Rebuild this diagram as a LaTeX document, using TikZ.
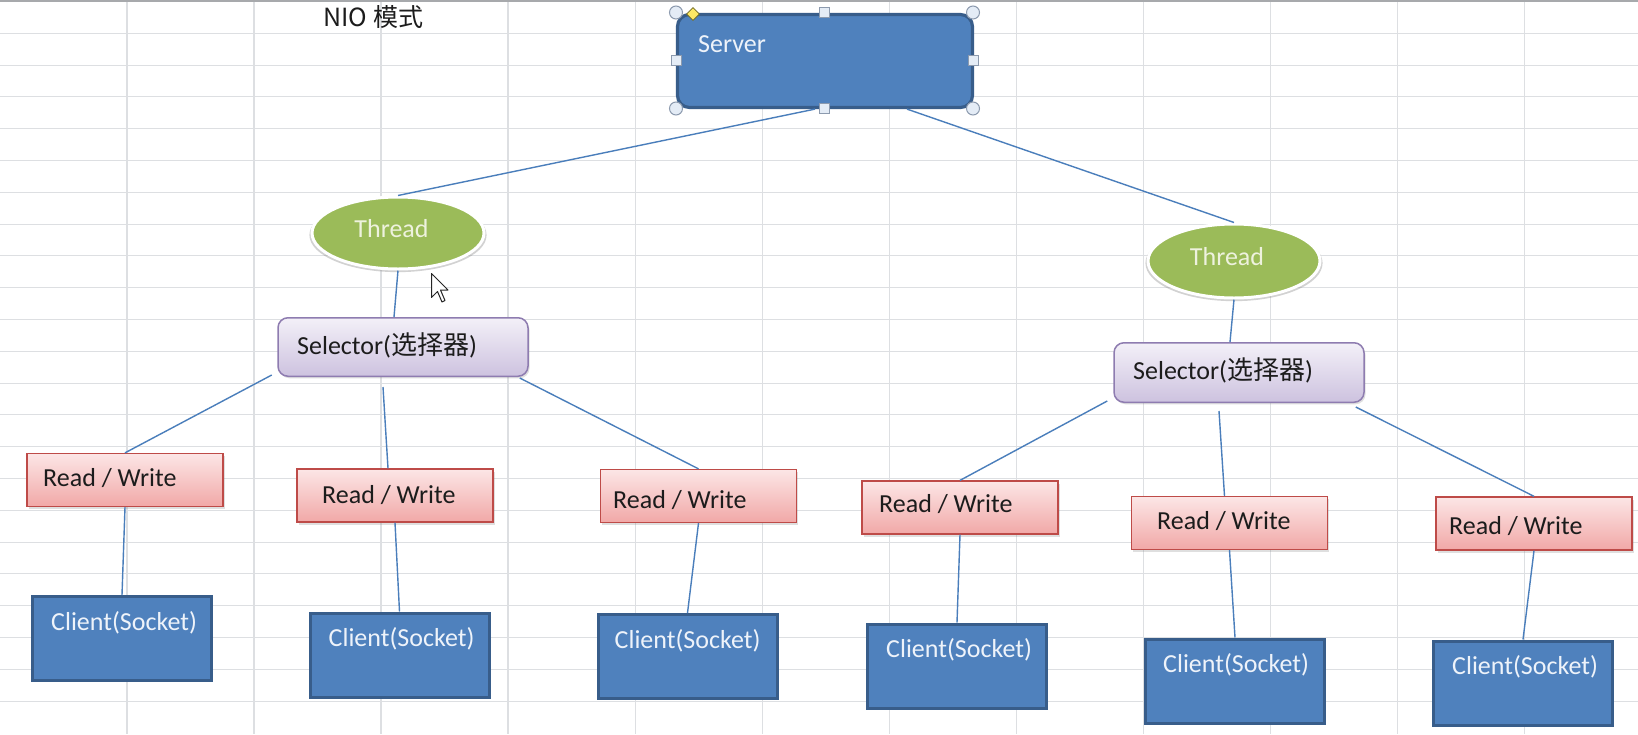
\documentclass[tikz,border=0pt]{standalone}
\usepackage{fontspec}
\setmainfont{Carlito}
\newfontfamily\cjk{Noto Sans CJK SC}
\usetikzlibrary{shapes.geometric,shadows,calc}

\definecolor{gridc}{HTML}{DDDFE2}
\definecolor{topc}{HTML}{A7A9AC}
\definecolor{blueF}{HTML}{4F81BD}
\definecolor{blueD}{HTML}{385D8A}
\definecolor{greenF}{HTML}{9BBB59}
\definecolor{lineC}{HTML}{4A7EBB}
\definecolor{pinkT}{HTML}{FCE6E6}
\definecolor{pinkB}{HTML}{F1A8A7}
\definecolor{redD}{HTML}{BE4B48}
\definecolor{purT}{HTML}{F3F0F8}
\definecolor{purB}{HTML}{CDC2DF}
\definecolor{purD}{HTML}{8E7CB0}
\definecolor{txtD}{HTML}{1C1C1C}
\definecolor{txtL}{HTML}{EEF3FA}
\definecolor{txtG}{HTML}{EEF2DE}
\definecolor{handleD}{HTML}{8C9AAE}
\definecolor{handleF}{HTML}{E4ECF6}

\tikzset{
  lbl/.style={font=\fontsize{26pt}{30pt}\selectfont, inner sep=0pt},
  serverbox/.style={draw=blueD, line width=3.2pt, fill=blueF, rounded corners=12pt,
    minimum width=295pt, minimum height=93pt, inner sep=0pt},
  clientbox/.style={draw=blueD, line width=3pt, fill=blueF,
    minimum width=179pt, minimum height=84pt, inner sep=0pt},
  threadnode/.style={ellipse, draw=white, line width=3pt, fill=greenF,
    minimum width=172pt, minimum height=72pt, inner sep=0pt,
    drop shadow={shadow xshift=0pt, shadow yshift=-2pt, shadow scale=1.03, opacity=0.35}},
  selbox/.style={draw=purD, line width=1.5pt, top color=purT, bottom color=purB,
    rounded corners=10pt, inner sep=0pt,
    drop shadow={shadow xshift=1.5pt, shadow yshift=-2pt, opacity=0.25}},
  rwbox/.style={draw=redD, line width=1.3pt, top color=pinkT, bottom color=pinkB,
    minimum width=196pt, minimum height=53pt, inner sep=0pt,
    drop shadow={shadow xshift=1.5pt, shadow yshift=-2.5pt, opacity=0.25}},
  darktxt/.style={lbl, text=txtD},
  lighttxt/.style={lbl, text=txtL},
  link/.style={draw=lineC, line width=1.4pt},
  gridv/.style={draw=gridc, line width=1.3pt},
  gridh/.style={draw=gridc, line width=1.1pt},
  handlec/.style={circle, draw=handleD, fill=handleF, line width=1pt, minimum size=13pt, inner sep=0pt},
  handles/.style={rectangle, draw=handleD, fill=handleF, line width=1pt, minimum size=10pt, inner sep=0pt},
  handley/.style={diamond, draw=olive!70!black, fill=yellow!80!orange!60, line width=0.8pt, minimum size=13pt, inner sep=0pt},
  cursorshape/.style={draw=black!85, fill=white, line width=1pt, line join=round},
}

\begin{document}
\begin{tikzpicture}[x=1pt, y=-1pt]
\useasboundingbox (0,0) rectangle (1638,734);
\fill[white] (0,0) rectangle (1638,734);

% spreadsheet grid
\foreach \k in {0,...,21} {
  \draw[gridh] (0,{33.3+31.8*\k}) -- (1638,{33.3+31.8*\k});
}
\foreach \k in {1,...,12} {
  \draw[gridv] ({127.03*\k},0) -- ({127.03*\k},734);
}
\draw[draw=topc, line width=2pt] (0,1) -- (1638,1);

% title
\node[anchor=base west, inner sep=0pt, font=\cjk\fontsize{25pt}{30pt}\selectfont, text=txtD] (title) at (323,26) {NIO\hspace{6pt}模式};

% server
\node[serverbox] (srv) at (825,61) {};
\node[lighttxt, anchor=base west] (srvt) at (698,52) {Server};

% threads
\node[threadnode] (th1) at (398,233) {};
\node[lbl, text=txtG] (th1t) at (391.5,229) {Thread};
\node[threadnode, minimum height=74pt] (th2) at (1234,261) {};
\node[lbl, text=txtG] (th2t) at (1227,256.5) {Thread};

% selectors
\node[selbox, minimum width=250pt, minimum height=58.5pt] (sel1) at (403,347) {};
\node[darktxt, anchor=west] (sel1t) at (297,345) {Selector({\cjk 选择器})};
\node[selbox, minimum width=250pt, minimum height=59.5pt] (sel2) at (1239,372.5) {};
\node[darktxt, anchor=west] (sel2t) at (1133,370) {Selector({\cjk 选择器})};

% read / write boxes
\node[rwbox] (rw1) at (125,480) {};
\node[rwbox] (rw2) at (395,495.5) {};
\node[rwbox] (rw3) at (698.5,496) {};
\node[rwbox] (rw4) at (960,507.5) {};
\node[rwbox] (rw5) at (1229.5,523) {};
\node[rwbox] (rw6) at (1534,523.5) {};
\node[darktxt, anchor=west] (rw1t) at (43,478) {Read / Write};
\node[darktxt, anchor=west] (rw2t) at (322,495) {Read / Write};
\node[darktxt, anchor=west] (rw3t) at (613,500) {Read / Write};
\node[darktxt, anchor=west] (rw4t) at (879,504) {Read / Write};
\node[darktxt, anchor=west] (rw5t) at (1157,521) {Read / Write};
\node[darktxt, anchor=west] (rw6t) at (1449,526) {Read / Write};

% clients
\node[clientbox] (cl1) at (122,638.5) {};
\node[clientbox] (cl2) at (399.5,655) {};
\node[clientbox] (cl3) at (687.5,656.5) {};
\node[clientbox] (cl4) at (957,666) {};
\node[clientbox] (cl5) at (1235,681) {};
\node[clientbox] (cl6) at (1523,683) {};
\foreach \i/\dx in {1/20,2/20,3/18,4/20,5/19,6/20} {
  \node[lighttxt, anchor=base west] (cl\i t) at ([xshift=\dx pt, yshift=-35pt]cl\i.north west) {Client(Socket)};
}

% connectors
\draw[link] ([xshift=-10pt]srv.south) -- (th1.north);
\draw[link] ([xshift=82pt]srv.south) -- (th2.north);
\draw[link] (th1.south) -- ([xshift=-9pt]sel1.north);
\draw[link] (th2.south) -- ([xshift=-9pt]sel2.north);

\draw[link] ([xshift=-5.5pt, yshift=2pt]sel1.south west) -- (rw1.north);
\draw[link] ([xshift=-20pt, yshift=-10pt]sel1.south) -- ([xshift=-7pt]rw2.north);
\draw[link] ([xshift=-9pt, yshift=-1pt]sel1.south east) -- (rw3.north);

\draw[link] ([xshift=-6pt, yshift=2pt]sel2.south west) -- (rw4.north);
\draw[link] ([xshift=-20pt, yshift=-8pt]sel2.south) -- ([xshift=-5pt]rw5.north);
\draw[link] ([xshift=-9pt, yshift=-4pt]sel2.south east) -- (rw6.north);

\foreach \i in {1,...,6} {
  \draw[link] (rw\i.south) -- (cl\i.north);
}

% selection handles on the server shape
\node[handlec] (h1) at (676,12.5) {};
\node[handlec] (h2) at (973,12.5) {};
\node[handlec] (h3) at (676,108.5) {};
\node[handlec] (h4) at (973,108.5) {};
\node[handles] (h5) at (824,12) {};
\node[handles] (h6) at (824,108.5) {};
\node[handles] (h7) at (676,60) {};
\node[handles] (h8) at (973,60) {};
\node[handley] (h9) at (693,14) {};

% mouse pointer
\draw[cursorshape] (431.5,273.5) -- ++(0,24) -- ++(6,-6) -- ++(4.5,10.5) -- ++(3,-1.5)
  -- ++(-4.5,-10.5) -- ++(7.5,0) -- cycle;
\end{tikzpicture}
\end{document}
